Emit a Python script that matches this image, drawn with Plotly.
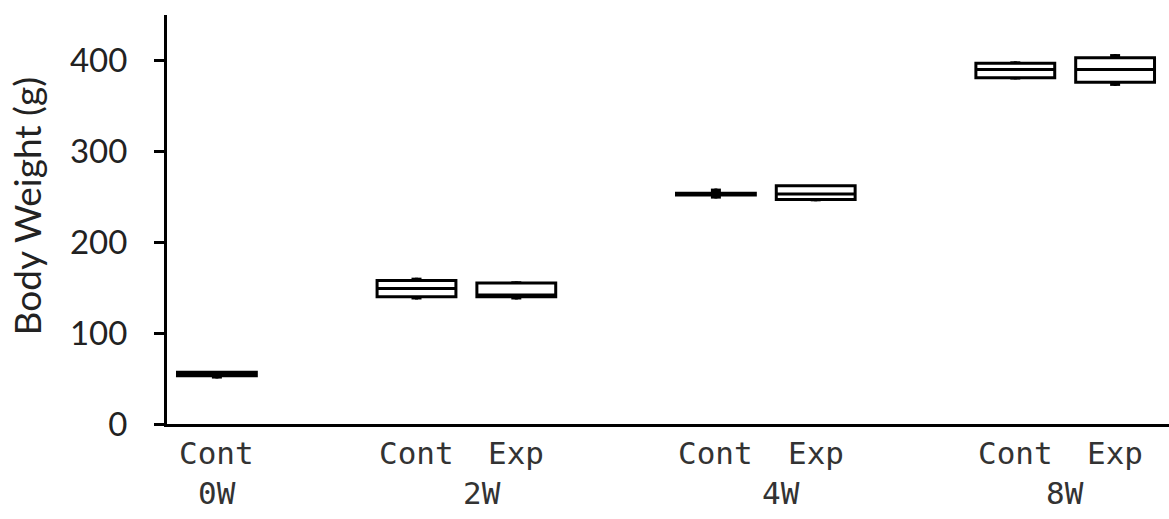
import plotly.graph_objects as go

# ---- data ----
groups = ["Cont", "Cont", "Exp", "Cont", "Exp", "Cont", "Exp"]
weeks = ["0W", "2W", "2W", "4W", "4W", "8W", "8W"]
positions = [0, 2, 3, 5, 6, 8, 9]
minimum = [50, 137, 137, 248, 245, 379, 372]
q1 = [53, 140, 140, 252, 247, 381, 376]
median = [55, 149, 142, 253, 253, 390, 390]
q3 = [57, 158, 155, 254, 262, 397, 403]
maximum = [58, 161, 157, 259, 263, 399, 407]

week_labels = ["0W", "2W", "4W", "8W"]
week_label_pos = [0, 2.66, 5.65, 8.5]

yticks = [0, 100, 200, 300, 400]

fig = go.Figure()

for i in range(len(positions)):
    fig.add_trace(go.Box(
        x=[positions[i]], q1=[q1[i]], median=[median[i]], q3=[q3[i]],
        lowerfence=[minimum[i]], upperfence=[maximum[i]],
        width=0.79, whiskerwidth=0, boxpoints=False,
        line=dict(color="black", width=3), fillcolor="white",
        showlegend=False, hoverinfo="skip",
    ))

# thick whisker stubs
wx, wy = [], []
for i in range(len(positions)):
    wx += [positions[i], positions[i], None, positions[i], positions[i], None]
    wy += [q3[i], maximum[i], None, minimum[i], q1[i], None]
fig.add_trace(go.Scatter(x=wx, y=wy, mode="lines",
                         line=dict(color="black", width=10),
                         showlegend=False, hoverinfo="skip"))

label_font = dict(family="DejaVu Sans Mono", size=31, color="#333")
annotations = []
for i in range(len(positions)):
    annotations.append(dict(x=positions[i], y=-0.071, xref="x", yref="paper",
                            text=groups[i], showarrow=False, font=label_font,
                            xanchor="center", yanchor="middle"))
for lab, p in zip(week_labels, week_label_pos):
    annotations.append(dict(x=p, y=-0.168, xref="x", yref="paper",
                            text=lab, showarrow=False, font=label_font,
                            xanchor="center", yanchor="middle"))
annotations.append(dict(x=0, y=0.532, xref="paper", yref="paper",
                        xshift=-141, text="Body Weight (g)", textangle=-90,
                        showarrow=False, xanchor="center", yanchor="middle",
                        font=dict(family="Lato", size=37, color="#222")))

fig.update_layout(
    width=1169, height=519,
    margin=dict(l=167, r=0, t=15, b=95),
    paper_bgcolor="white", plot_bgcolor="white",
    boxmode="overlay",
    annotations=annotations,
    xaxis=dict(range=[-0.5, 9.54], showline=True, linewidth=3, linecolor="black",
               showgrid=False, zeroline=False, showticklabels=False, ticks=""),
    yaxis=dict(range=[0, 450], showline=True, linewidth=3, linecolor="black",
               showgrid=False, zeroline=False, tickvals=yticks,
               ticks="outside", ticklen=10, tickwidth=3, tickcolor="black",
               ticklabelstandoff=20,
               tickfont=dict(family="Lato", size=33, color="#222")),
)

fig.write_html(
    "out.html",
    config={"displayModeBar": False},
    post_script="document.body.style.margin='0';document.body.style.overflow='hidden';",
)
